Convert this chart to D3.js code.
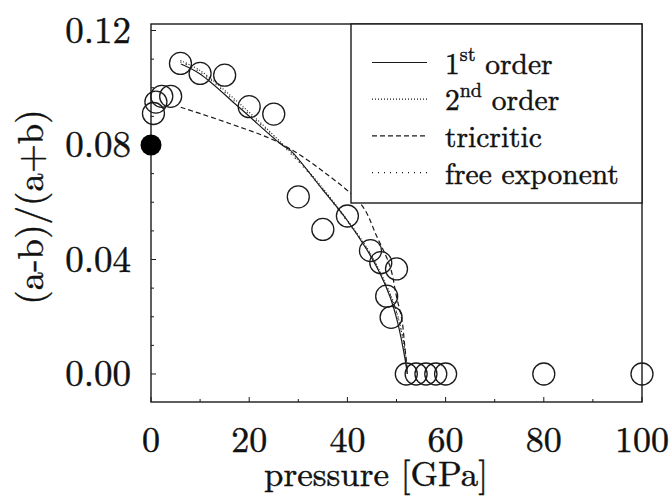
<!DOCTYPE html>
<html>
<head>
<meta charset="utf-8">
<script src="https://cdnjs.cloudflare.com/ajax/libs/d3/7.8.5/d3.min.js"></script>
<style>
  body { margin: 0; background: #fff; }
</style>
</head>
<body>
<svg id="chart" width="672" height="496"></svg>
<script>
// measured points (open circles)
const pressure = [0.5, 1, 2.2, 4, 6, 10, 15, 20, 25, 30, 35, 40, 44.7, 46.8, 48, 48.9, 50, 52, 54, 56, 58, 60, 80, 100];
const ratio = [0.091, 0.095, 0.097, 0.097, 0.1085, 0.105, 0.1044, 0.0934, 0.0908, 0.0619, 0.0505, 0.0552,
               0.0431, 0.0389, 0.0272, 0.0198, 0.0367, 0, 0, 0, 0, 0, 0, 0];

// ambient pressure reference point (filled)
const refPressure = [0];
const refRatio = [0.080];

// fitted curves
const firstP = [6.1, 10, 18.1, 26.9, 28.3, 35, 39.9, 44, 46.6, 48.7, 50.1, 51.3, 52.1, 52.2];
const firstV = [0.1083, 0.1048, 0.0929, 0.0797, 0.0783, 0.0643, 0.0538, 0.0433, 0.0353, 0.0269, 0.0189, 0.0094, 0.0014, 0];

const secondP = [6, 10, 18, 27, 33, 39, 44, 47, 49.5, 51, 51.8, 52.2];
const secondV = [0.1095, 0.106, 0.0945, 0.08, 0.069, 0.056, 0.044, 0.0345, 0.0245, 0.015, 0.007, 0];

const triP = [6.05, 16, 26.1, 35.1, 42.9, 46, 48.7, 50, 51.1, 51.7, 52.2];
const triV = [0.0932, 0.0875, 0.0808, 0.0707, 0.059, 0.048, 0.0375, 0.027, 0.0189, 0.0095, 0.0014];

const freeP = [6, 10, 18, 27, 33, 39, 44, 47, 49.5, 51, 51.8, 52.2];
const freeV = [0.109, 0.1055, 0.0938, 0.0795, 0.0685, 0.0555, 0.0437, 0.034, 0.024, 0.0148, 0.0068, 0];

const xTicks = [0, 20, 40, 60, 80, 100];
const yTicks = [0.00, 0.04, 0.08, 0.12];

const legendLabels = [["1", "st", " order"], ["2", "nd", " order"], ["tricritic", "", ""], ["free exponent", "", ""]];

const serif = "Latin Modern Roman";
const ink = "#1a1a1a";

let svg = d3.select("#chart");

let x = d3.scaleLinear().domain([0, 100]).range([151, 642]);
let y = d3.scaleLinear().domain([-0.00978, 0.12227]).range([402, 24]);

// scanned look: text a little heavier than the plain font
function ink_text(sel, size) {
    return sel.attr("font-family", serif).attr("fill", "#111")
        .attr("stroke", "#111").attr("stroke-width", 0.45)
        .style("font-size", size + "px");
}

// frame
svg.append("rect")
    .attr("x", x(0)).attr("y", y(0.12227))
    .attr("width", x(100) - x(0)).attr("height", y(-0.00978) - y(0.12227))
    .attr("fill", "none").attr("stroke", ink).attr("stroke-width", 1.4);

// inward ticks
d3.range(0, 0.1201, 0.01).forEach((v, i) => {
    svg.append("line")
        .attr("x1", x(0)).attr("x2", x(0) + (i % 4 === 0 ? 5 : 3))
        .attr("y1", y(v)).attr("y2", y(v))
        .attr("stroke", ink).attr("stroke-width", 1);
});
d3.range(0, 101, 10).forEach((p, i) => {
    svg.append("line")
        .attr("x1", x(p)).attr("x2", x(p))
        .attr("y1", y(-0.00978)).attr("y2", y(-0.00978) - (i % 2 === 0 ? 5 : 3))
        .attr("stroke", ink).attr("stroke-width", 1);
});

// tick labels
ink_text(svg.selectAll(".ylab").data(yTicks).enter().append("text"), 37)
    .attr("x", 131).attr("y", d => y(d)).attr("dy", "0.33em")
    .style("text-anchor", "end")
    .text(d => d.toFixed(2));

ink_text(svg.selectAll(".xlab").data(xTicks).enter().append("text"), 36)
    .attr("x", d => x(d)).attr("y", 452)
    .style("text-anchor", "middle")
    .text(d => d);

// axis titles
ink_text(svg.append("text"), 35)
    .attr("x", 376).attr("y", 486)
    .style("text-anchor", "middle")
    .text("pressure [GPa]");

ink_text(svg.append("text"), 37)
    .attr("transform", "translate(43,207) rotate(-90)")
    .style("text-anchor", "middle")
    .text("(a-b)/(a+b)");

// curves
const curves = [
    {p: firstP, v: firstV, dash: null},
    {p: secondP, v: secondV, dash: "1,2"},
    {p: triP, v: triV, dash: "5,3"},
    {p: freeP, v: freeV, dash: "1,5"}
];
curves.forEach(c => {
    let pts = c.p.map((p, i) => [x(p), y(c.v[i])]);
    svg.append("path")
        .attr("d", d3.line().curve(d3.curveCatmullRom)(pts))
        .attr("fill", "none").attr("stroke", ink).attr("stroke-width", 1.2)
        .attr("stroke-dasharray", c.dash);
});

// data circles
svg.selectAll(".dot").data(pressure).enter().append("circle")
    .attr("cx", d => x(d)).attr("cy", (d, i) => y(ratio[i]))
    .attr("r", 11)
    .attr("fill", "none").attr("stroke", ink).attr("stroke-width", 1.3);

svg.selectAll(".ref").data(refPressure).enter().append("circle")
    .attr("cx", d => x(d)).attr("cy", (d, i) => y(refRatio[i]))
    .attr("r", 10.5).attr("fill", "#000");

// legend box (opaque, covers curves)
svg.append("rect")
    .attr("x", 351).attr("y", y(0.12227))
    .attr("width", x(100) - 351).attr("height", 203 - y(0.12227))
    .attr("fill", "#fff").attr("stroke", ink).attr("stroke-width", 1.4);

legendLabels.forEach((lab, i) => {
    let ly = 62.5 + i * 36.7;
    svg.append("line")
        .attr("x1", 372).attr("x2", 427).attr("y1", ly).attr("y2", ly)
        .attr("stroke", ink).attr("stroke-width", 1.2)
        .attr("stroke-dasharray", curves[i].dash);
    let t = ink_text(svg.append("text"), 29.5).attr("x", 445).attr("y", ly + 11);
    t.append("tspan").text(lab[0]);
    if (lab[1]) {
        t.append("tspan").attr("dy", -13).style("font-size", "20px").text(lab[1]);
        t.append("tspan").attr("dy", 13).text(lab[2]);
    }
});
</script>
</body>
</html>
